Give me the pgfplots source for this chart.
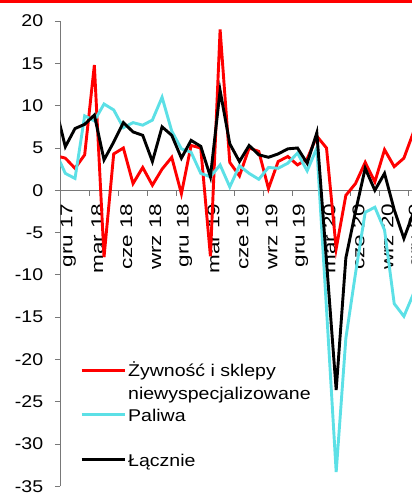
\documentclass[border=0pt]{standalone}
\usepackage{pgfplots}
\pgfplotsset{compat=1.18}
\usepackage{fontspec}
\usepackage{graphicx}
\setmainfont{Liberation Sans}[FakeStretch=1.15]
\definecolor{cred}{RGB}{255,0,0}
\definecolor{ccyan}{RGB}{92,224,230}
\definecolor{axgray}{RGB}{120,120,120}
\pgfplotsset{
  leglow/.style={legend image code/.code={\draw[##1] (0bp,0bp) -- (43bp,0bp);}},
  leghigh/.style={legend image code/.code={\draw[##1] (0bp,11.2bp) -- (43bp,11.2bp);}},
}
\newcommand{\xl}[1]{\scalebox{1.15}[1]{#1}}

\pgfplotstableread{
i red cyan black
-1 4.1 4.5 9.8
0 3.8 2.0 5.15
1 2.6 1.4 7.3
2 4.2 8.8 7.8
3 14.8 8.2 8.9
4 -7.9 10.2 3.6
5 4.3 9.5 5.7
6 5.0 7.4 8.0
7 0.8 8.0 6.9
8 2.7 7.7 6.5
9 0.6 8.3 3.4
10 2.5 11.0 7.5
11 3.9 7.0 6.5
12 -0.4 4.9 3.8
13 5.3 4.5 5.9
14 5.0 2.0 5.2
15 -7.8 1.6 1.6
16 19.0 3.0 11.8
17 3.3 0.4 5.5
18 1.7 2.9 3.4
19 5.0 2.0 5.3
20 4.6 1.3 4.2
21 0.2 2.7 3.9
22 3.4 2.6 4.3
23 4.0 3.2 4.9
24 3.0 4.4 5.0
25 3.7 2.3 3.2
26 6.4 5.0 6.8
27 5.0 -14.0 -8.4
28 -6.9 -33.3 -23.6
29 -0.6 -17.5 -8.0
30 0.8 -9.8 -2.5
31 3.3 -2.6 2.6
32 1.0 -2.0 0.0
33 4.8 -4.7 2.0
34 2.8 -13.4 -2.3
35 3.8 -14.9 -5.7
36 6.9 -12.2 -2.6
}\datatable

\begin{document}
\fontsize{17bp}{22.5bp}\selectfont
\begin{tikzpicture}
\begin{axis}[
  at={(0,0)}, anchor=south west,
  scale only axis, width=357.9bp, height=465.3bp,
  xmin=-0.5, xmax=36.5, ymin=-35, ymax=20,
  axis x line=middle, axis y line=left,
  axis line style={axgray, line width=0.8bp, -},
  tick align=outside,
  tick style={axgray, line width=0.8bp},
  major tick length=5.5bp, minor tick length=5.5bp,
  ytick={-35,-30,...,20},
  yminorticks=false,
  xtick={0,3,...,36},
  xticklabels={\xl{gru 17}, \xl{mar 18}, \xl{cze 18}, \xl{wrz 18}, \xl{gru 18}, \xl{mar 19}, \xl{cze 19}, \xl{wrz 19}, \xl{gru 19}, \xl{mar 20}, \xl{cze 20}, \xl{wrz 20}, \xl{gru 20}},
  minor xtick={2.5,5.5,...,35.5},
  every major x tick/.append style={draw=none},
  /pgf/number format/assume math mode=true,
  ticklabel style={font=\fontsize{17bp}{20bp}\selectfont},
  yticklabel style={xshift=-6bp},
  xticklabel style={rotate=90, anchor=east, yshift=-3bp, xshift=-2bp},
  clip=true,
  legend style={draw=none, fill=none, at={(0.0546,0.2743)}, anchor=north west, inner sep=0pt, row sep=0pt},
  legend cell align=left,
  leglow,
]
\addplot[cred, line width=2.9bp, leghigh] table[x=i, y=red] {\datatable};
\addlegendentry{\begin{tabular}[b]{@{}l@{}}Żywność i sklepy\\niewyspecjalizowane\end{tabular}}
\addplot[ccyan, line width=2.9bp] table[x=i, y=cyan] {\datatable};
\addlegendentry{\strut Paliwa}
\addlegendimage{empty legend}
\addlegendentry{\strut}
\addplot[black, line width=2.9bp] table[x=i, y=black] {\datatable};
\addlegendentry{\strut Łącznie}
\end{axis}
\fill[cred] (-60.5bp,483.7bp) rectangle (351.5bp,486.4bp);
\pgfresetboundingbox
\useasboundingbox (-60.5bp,-10.6bp) rectangle (351.5bp,486.4bp);
\end{tikzpicture}
\end{document}
